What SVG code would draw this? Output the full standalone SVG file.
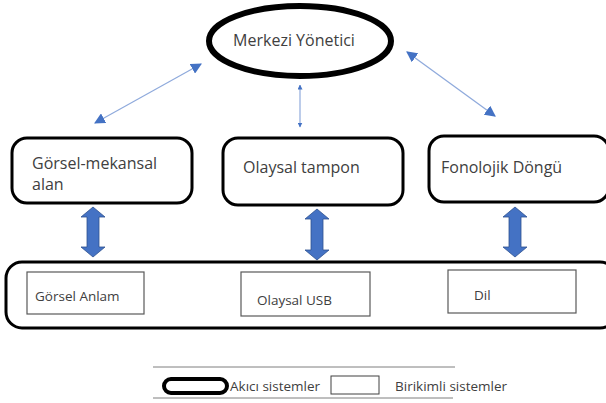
<svg xmlns="http://www.w3.org/2000/svg" width="606" height="403" viewBox="0 0 606 403">
<defs>
<style>
.t{font-family:"Open Sans","Noto Sans","Liberation Sans",sans-serif;fill:#404040}
.bx{fill:#fff;stroke:#000;stroke-width:3}
.ib{fill:#fff;stroke:#595959;stroke-width:1.2}
.thin{stroke:#8FAADC;stroke-width:1.2;fill:none}
.fat{fill:#4472C4;stroke:#2F528F;stroke-width:0.8}
</style>
<marker id="ah" viewBox="0 0 10 10" refX="9" refY="5" markerWidth="11" markerHeight="11" markerUnits="userSpaceOnUse" orient="auto-start-reverse">
<path d="M0,0 L10,5 L0,10 z" fill="#4472C4"/>
</marker>
<marker id="ahs" viewBox="0 0 10 10" refX="9" refY="5" markerWidth="5" markerHeight="5" markerUnits="userSpaceOnUse" orient="auto-start-reverse">
<path d="M0,0 L10,5 L0,10 z" fill="#4472C4"/>
</marker>
</defs>
<rect width="606" height="403" fill="#fff"/>

<g id="connectors">
<line class="thin" x1="201" y1="64" x2="95" y2="123" marker-start="url(#ah)" marker-end="url(#ah)"/>
<line class="thin" x1="300" y1="85" x2="300" y2="127" marker-start="url(#ahs)" marker-end="url(#ahs)"/>
<line class="thin" x1="407" y1="52" x2="495" y2="116" marker-start="url(#ah)" marker-end="url(#ah)"/>
<path class="fat" d="M93,207 L105,217 L99,217 L99,247 L105,247 L93,257 L81,247 L87,247 L87,217 L81,217 z"/>
<path class="fat" d="M317,209 L329,219 L323,219 L323,250 L329,250 L317,260 L305,250 L311,250 L311,219 L305,219 z"/>
<path class="fat" d="M515,207 L527,217 L521,217 L521,247 L527,247 L515,257 L503,247 L509,247 L509,217 L503,217 z"/>
<path class="fat" d="M148,296 L161,283 L161,290 L223,290 L223,283 L236,296 L223,309 L223,302 L161,302 L161,309 z"/>
<path class="fat" d="M372,297 L384,285 L384,291 L439,291 L439,285 L451,297 L439,309 L439,303 L384,303 L384,309 z"/>
</g>

<g id="merkezi">
<ellipse cx="300" cy="41" rx="91" ry="35" fill="#fff" stroke="#000" stroke-width="6"/>
<text class="t" x="294" y="46" font-size="16" text-anchor="middle">Merkezi Yönetici</text>
</g>

<g id="gorsel-mekansal">
<rect class="bx" x="12" y="138" width="180" height="65" rx="15"/>
<text class="t" x="32" y="169" font-size="16">Görsel-mekansal</text>
<text class="t" x="32" y="190" font-size="16">alan</text>
</g>

<g id="olaysal-tampon">
<rect class="bx" x="223" y="138" width="180" height="67" rx="15"/>
<text class="t" x="243" y="173" font-size="16">Olaysal tampon</text>
</g>

<g id="fonolojik">
<rect class="bx" x="429" y="136" width="180" height="66" rx="15"/>
<text class="t" x="441" y="173" font-size="16">Fonolojik Döngü</text>
</g>

<g id="uzun-sureli">
<rect class="bx" x="6" y="262" width="610" height="66" rx="16"/>
</g>

<g id="gorsel-anlam">
<rect class="ib" x="27" y="272" width="117" height="42"/>
<text class="t" x="35" y="301" font-size="13.5">Görsel Anlam</text>
</g>

<g id="olaysal-usb">
<rect class="ib" x="241" y="272" width="129" height="44"/>
<text class="t" x="257" y="305" font-size="13.5">Olaysal USB</text>
</g>

<g id="dil">
<rect class="ib" x="448" y="270" width="128" height="43"/>
<text class="t" x="474" y="300" font-size="13.5">Dil</text>
</g>

<g id="legend">
<line x1="153" y1="367" x2="455" y2="367" stroke="#7f7f7f" stroke-width="1"/>
<line x1="153" y1="398" x2="453" y2="398" stroke="#7f7f7f" stroke-width="1"/>
<rect x="164" y="379" width="63" height="14" rx="7" fill="#fff" stroke="#000" stroke-width="4"/>
<text class="t" x="230" y="391" font-size="13.5">Akıcı sistemler</text>
<rect x="331" y="376" width="48" height="18" fill="#fff" stroke="#404040" stroke-width="1"/>
<text class="t" x="395" y="391" font-size="13.5">Birikimli sistemler</text>
</g>
</svg>
